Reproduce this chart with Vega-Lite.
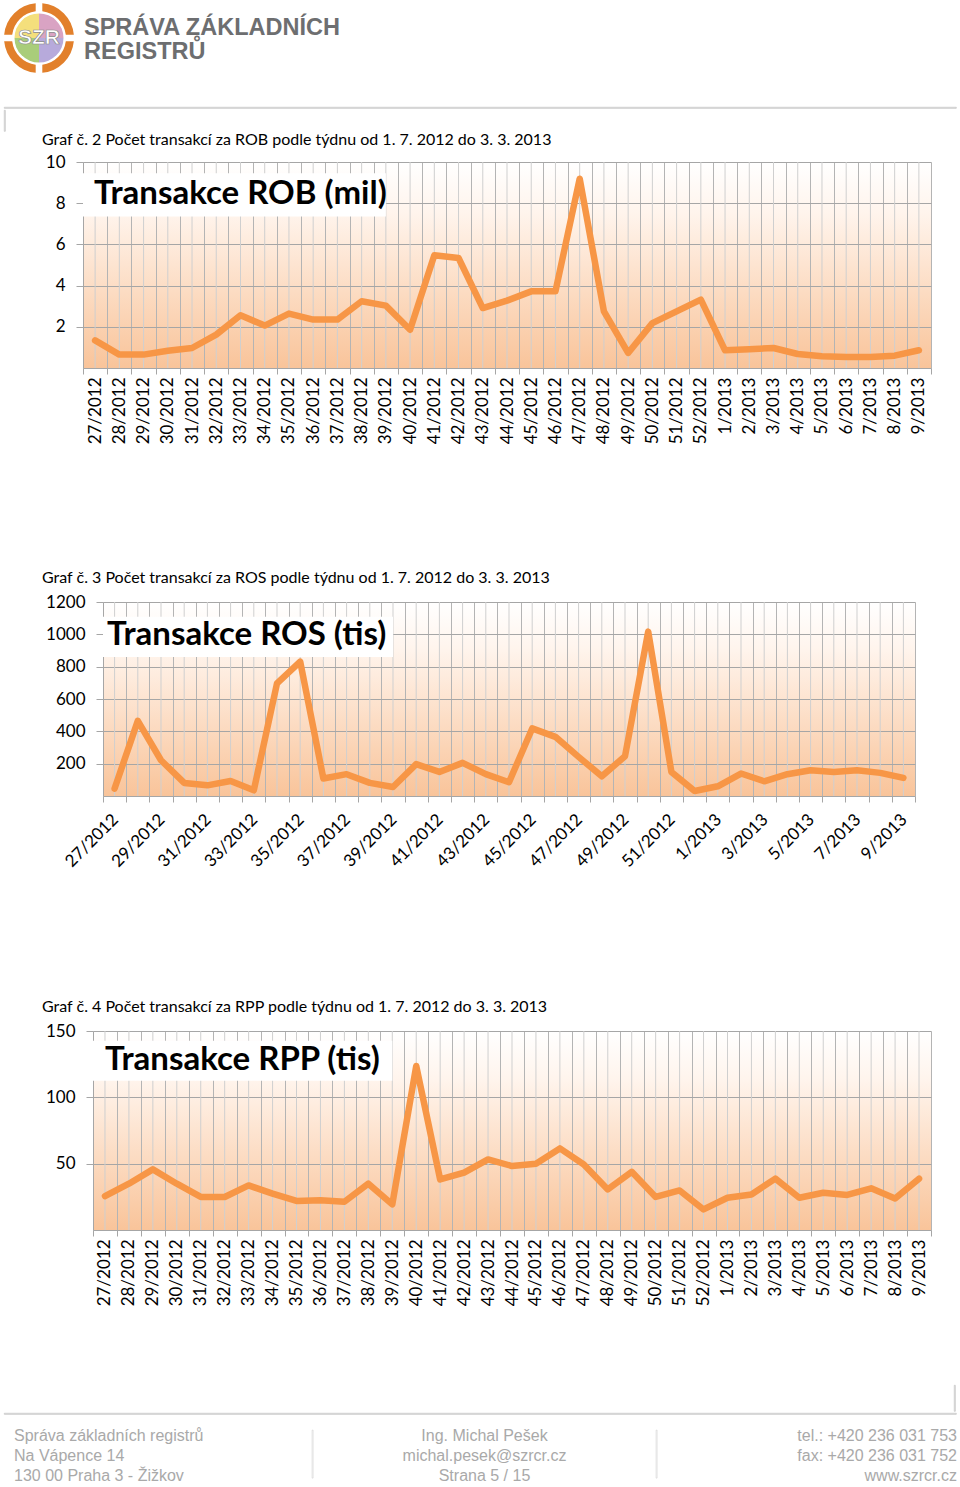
{
  "$schema": "https://vega.github.io/schema/vega-lite/v6.json",
  "background": "white",
  "padding": {"left": 3, "top": 3, "right": 0, "bottom": 0},
  "columns": 1,
  "align": "none",
  "spacing": 0,
  "config": {
    "view": {"stroke": null},
    "font": "Lato",
    "axis": {"labelFont": "Lato", "labelFontSize": 17, "labelColor": "#000000", "tickColor": "#a6a6a6", "domainColor": "#a6a6a6", "gridWidth": 1, "labelOverlap": false}
  },
  "datasets": {
    "logo": [{"q": "1"}, {"q": "2"}, {"q": "3"}, {"q": "4"}],
    "weeks": [
      {"week": "27/2012", "rob": 1.34, "ros": 46, "rpp": 25.6},
      {"week": "28/2012", "rob": 0.65, "ros": 465, "rpp": 34.9},
      {"week": "29/2012", "rob": 0.65, "ros": 221, "rpp": 45.7},
      {"week": "30/2012", "rob": 0.84, "ros": 81, "rpp": 34.9},
      {"week": "31/2012", "rob": 0.97, "ros": 66, "rpp": 24.9},
      {"week": "32/2012", "rob": 1.62, "ros": 93, "rpp": 24.9},
      {"week": "33/2012", "rob": 2.56, "ros": 35, "rpp": 33.6},
      {"week": "34/2012", "rob": 2.06, "ros": 697, "rpp": 27.4},
      {"week": "35/2012", "rob": 2.64, "ros": 831, "rpp": 21.9},
      {"week": "36/2012", "rob": 2.35, "ros": 108, "rpp": 22.4},
      {"week": "37/2012", "rob": 2.35, "ros": 135, "rpp": 21.3},
      {"week": "38/2012", "rob": 3.24, "ros": 81, "rpp": 34.9},
      {"week": "39/2012", "rob": 3.03, "ros": 56, "rpp": 19.3},
      {"week": "40/2012", "rob": 1.86, "ros": 197, "rpp": 123.6},
      {"week": "41/2012", "rob": 5.47, "ros": 149, "rpp": 38.1},
      {"week": "42/2012", "rob": 5.34, "ros": 205, "rpp": 43.2},
      {"week": "43/2012", "rob": 2.91, "ros": 135, "rpp": 53.2},
      {"week": "44/2012", "rob": 3.27, "ros": 85, "rpp": 48.2},
      {"week": "45/2012", "rob": 3.72, "ros": 418, "rpp": 50},
      {"week": "46/2012", "rob": 3.72, "ros": 366, "rpp": 61.5},
      {"week": "47/2012", "rob": 9.19, "ros": 242, "rpp": 49.4},
      {"week": "48/2012", "rob": 2.75, "ros": 122, "rpp": 30.6},
      {"week": "49/2012", "rob": 0.73, "ros": 246, "rpp": 43.9},
      {"week": "50/2012", "rob": 2.18, "ros": 1017, "rpp": 24.9},
      {"week": "51/2012", "rob": 2.75, "ros": 149, "rpp": 29.8},
      {"week": "52/2012", "rob": 3.32, "ros": 31, "rpp": 15.5},
      {"week": "1/2013", "rob": 0.86, "ros": 60, "rpp": 24.3},
      {"week": "2/2013", "rob": 0.91, "ros": 139, "rpp": 26.8},
      {"week": "3/2013", "rob": 0.97, "ros": 91, "rpp": 38.7},
      {"week": "4/2013", "rob": 0.68, "ros": 135, "rpp": 24.3},
      {"week": "5/2013", "rob": 0.57, "ros": 159, "rpp": 28.1},
      {"week": "6/2013", "rob": 0.53, "ros": 149, "rpp": 26.4},
      {"week": "7/2013", "rob": 0.53, "ros": 159, "rpp": 31.4},
      {"week": "8/2013", "rob": 0.6, "ros": 143, "rpp": 23.8},
      {"week": "9/2013", "rob": 0.86, "ros": 112, "rpp": 38.7}
    ]
  },
  "concat": [
    {
      "spacing": 33,
      "vconcat": [
        {
          "spacing": 10,
          "hconcat": [
            {
              "width": 70, "height": 70,
              "data": {"name": "logo"},
              "layer": [
                {"mark": {"type": "arc", "outerRadius": 35, "innerRadius": 27, "padAngle": 0.15, "color": "#e2802b"},
                 "encoding": {"theta": {"aggregate": "count", "type": "quantitative", "stack": true}, "detail": {"field": "q"}}},
                {"mark": {"type": "arc", "outerRadius": 24.5},
                 "encoding": {"theta": {"aggregate": "count", "type": "quantitative", "stack": true},
                   "color": {"field": "q", "type": "nominal", "scale": {"domain": ["1", "2", "3", "4"], "range": ["#d9a3c3", "#b7aadb", "#a9cd7a", "#f4df7c"]}, "legend": null},
                   "order": {"field": "q"}}},
                {"data": {"values": [{}]}, "mark": {"type": "text", "text": "SZR", "font": "Liberation Sans", "fontWeight": "bold", "fontSize": 21, "fill": "#ffffff", "stroke": "#8a8a8a", "strokeWidth": 0.7}}
              ]
            },
            {
              "width": 300, "height": 70,
              "data": {"values": []},
              "mark": "point",
              "title": {"text": "SPRÁVA ZÁKLADNÍCH", "subtitle": "REGISTRŮ", "anchor": "start", "frame": "group", "offset": -60, "font": "Liberation Sans", "fontSize": 23.5, "fontWeight": "bold", "color": "#6d6e70", "lineHeight": 22, "subtitleFont": "Liberation Sans", "subtitleFontSize": 23.5, "subtitleFontWeight": "bold", "subtitleColor": "#6d6e70", "subtitleLineHeight": 22, "subtitlePadding": 0}
            }
          ]
        },
        {
          "spacing": 0,
          "vconcat": [
            {"width": 952, "height": 1, "data": {"values": []}, "mark": "point", "view": {"stroke": "#c4c4c4", "strokeWidth": 0.8}},
            {"width": 1, "height": 21, "data": {"values": []}, "mark": "point", "view": {"stroke": "#c4c4c4", "strokeWidth": 0.8}}
          ]
        }
      ]
    },
    {
      "title": {"text": "Graf č. 2 Počet transakcí za ROB podle týdnu od 1. 7. 2012 do 3. 3. 2013", "anchor": "start", "frame": "bounds", "dx": 38, "offset": 5, "font": "Lato", "fontSize": 16, "fontWeight": "normal", "color": "#000000"},
      "vconcat": [
        {
          "spacing": 0,
          "hconcat": [
            {"width": 1, "height": 1, "data": {"values": []}, "mark": "point"},
            {
              "width": 848, "height": 206,
              "view": {"stroke": null, "fill": {"gradient": "linear", "x1": 0, "y1": 0, "x2": 0, "y2": 1, "stops": [{"offset": 0, "color": "#ffffff"}, {"offset": 0.25, "color": "#fff4ec"}, {"offset": 1, "color": "#f9c49a"}]}},
              "title": {"text": "Transakce ROB (mil)", "anchor": "start", "frame": "group", "dx": 11, "offset": -58, "font": "Lato", "fontSize": 33, "fontWeight": "bold", "color": "#000000"},
              "data": {"name": "weeks"},
              "encoding": {
                "x": {"field": "week", "type": "ordinal", "sort": null,
                  "scale": {"type": "band", "paddingInner": 0, "paddingOuter": 0, "domain": ["27/2012","28/2012","29/2012","30/2012","31/2012","32/2012","33/2012","34/2012","35/2012","36/2012","37/2012","38/2012","39/2012","40/2012","41/2012","42/2012","43/2012","44/2012","45/2012","46/2012","47/2012","48/2012","49/2012","50/2012","51/2012","52/2012","1/2013","2/2013","3/2013","4/2013","5/2013","6/2013","7/2013","8/2013","9/2013"]},
                  "axis": {"title": null, "tickBand": "extent", "grid": true, "gridColor": "#b4b4b4", "tickSize": 6, "labelAngle": -90, "labelPadding": 3, "labelOverlap": false, "minExtent": 202, "maxExtent": 202}}
              },
              "layer": [
                {"mark": {"type": "rule", "color": "#cfcfcf", "strokeWidth": 1}},
                {"data": {"values": [{}]}, "mark": {"type": "rect", "fill": "#ffffff"},
                 "encoding": {"x": {"datum": "27/2012", "type": "ordinal", "bandPosition": 0}, "x2": {"datum": "39/2012"},
                   "y": {"datum": 9.45, "type": "quantitative", "axis": {"title": null, "values": [2, 4, 6, 8, 10], "format": "d", "labelOverlap": false, "grid": true, "gridColor": "#a6a6a6", "tickSize": 7, "labelPadding": 11, "minExtent": 78, "maxExtent": 78}}, "y2": {"datum": 7.36}}},
                {"mark": {"type": "line", "color": "#f79646", "strokeWidth": 6.5, "strokeJoin": "round", "strokeCap": "round"},
                 "encoding": {"y": {"field": "rob", "type": "quantitative", "scale": {"domain": [0, 10], "nice": false},
                   "axis": {"title": null, "values": [2, 4, 6, 8, 10], "format": "d", "labelOverlap": false, "grid": true, "gridColor": "#a6a6a6", "tickSize": 7, "labelPadding": 11, "minExtent": 78, "maxExtent": 78}}}}
              ]
            }
          ]
        }
      ]
    },
    {
      "title": {"text": "Graf č. 3 Počet transakcí za ROS podle týdnu od 1. 7. 2012 do 3. 3. 2013", "anchor": "start", "frame": "bounds", "dx": 38, "offset": 7, "font": "Lato", "fontSize": 16, "fontWeight": "normal", "color": "#000000"},
      "vconcat": [
        {
          "spacing": 0,
          "hconcat": [
            {"width": 1, "height": 1, "data": {"values": []}, "mark": "point"},
            {
              "width": 812, "height": 194,
              "view": {"stroke": null, "fill": {"gradient": "linear", "x1": 0, "y1": 0, "x2": 0, "y2": 1, "stops": [{"offset": 0, "color": "#ffffff"}, {"offset": 0.25, "color": "#fff4ec"}, {"offset": 1, "color": "#f9c49a"}]}},
              "title": {"text": "Transakce ROS (tis)", "anchor": "start", "frame": "group", "dx": 4, "offset": -59, "font": "Lato", "fontSize": 33, "fontWeight": "bold", "color": "#000000"},
              "data": {"name": "weeks"},
              "encoding": {
                "x": {"field": "week", "type": "ordinal", "sort": null,
                  "scale": {"type": "band", "paddingInner": 0, "paddingOuter": 0, "domain": ["27/2012","28/2012","29/2012","30/2012","31/2012","32/2012","33/2012","34/2012","35/2012","36/2012","37/2012","38/2012","39/2012","40/2012","41/2012","42/2012","43/2012","44/2012","45/2012","46/2012","47/2012","48/2012","49/2012","50/2012","51/2012","52/2012","1/2013","2/2013","3/2013","4/2013","5/2013","6/2013","7/2013","8/2013","9/2013"]},
                  "axis": {"title": null, "tickBand": "extent", "grid": true, "gridColor": "#b4b4b4", "tickSize": 6, "labelAngle": -45, "labelPadding": 9, "labelOffset": -5, "labelOverlap": false, "minExtent": 203, "maxExtent": 203,
                    "labelExpr": "indexof(['27/2012','29/2012','31/2012','33/2012','35/2012','37/2012','39/2012','41/2012','43/2012','45/2012','47/2012','49/2012','51/2012','1/2013','3/2013','5/2013','7/2013','9/2013'], datum.value) >= 0 ? datum.label : ''"}}
              },
              "layer": [
                {"mark": {"type": "rule", "color": "#cfcfcf", "strokeWidth": 1}},
                {"data": {"values": [{}]}, "mark": {"type": "rect", "fill": "#ffffff"},
                 "encoding": {"x": {"datum": "27/2012", "type": "ordinal", "bandPosition": 0}, "x2": {"datum": "39/2012"},
                   "y": {"datum": 1109, "type": "quantitative", "axis": {"title": null, "values": [200, 400, 600, 800, 1000, 1200], "format": "d", "labelOverlap": false, "grid": true, "gridColor": "#a6a6a6", "tickSize": 7, "labelPadding": 11, "minExtent": 98, "maxExtent": 98}}, "y2": {"datum": 860}}},
                {"mark": {"type": "line", "color": "#f79646", "strokeWidth": 6.5, "strokeJoin": "round", "strokeCap": "round"},
                 "encoding": {"y": {"field": "ros", "type": "quantitative", "scale": {"domain": [0, 1200], "nice": false},
                   "axis": {"title": null, "values": [200, 400, 600, 800, 1000, 1200], "format": "d", "labelOverlap": false, "grid": true, "gridColor": "#a6a6a6", "tickSize": 7, "labelPadding": 11, "minExtent": 98, "maxExtent": 98}}}}
              ]
            }
          ]
        }
      ]
    },
    {
      "title": {"text": "Graf č. 4 Počet transakcí za RPP podle týdnu od 1. 7. 2012 do 3. 3. 2013", "anchor": "start", "frame": "bounds", "dx": 38, "offset": 7, "font": "Lato", "fontSize": 16, "fontWeight": "normal", "color": "#000000"},
      "vconcat": [
        {
          "spacing": 0,
          "hconcat": [
            {"width": 1, "height": 1, "data": {"values": []}, "mark": "point"},
            {
              "width": 838, "height": 199,
              "view": {"stroke": null, "fill": {"gradient": "linear", "x1": 0, "y1": 0, "x2": 0, "y2": 1, "stops": [{"offset": 0, "color": "#ffffff"}, {"offset": 0.25, "color": "#fff4ec"}, {"offset": 1, "color": "#f9c49a"}]}},
              "title": {"text": "Transakce RPP (tis)", "anchor": "start", "frame": "group", "dx": 12, "offset": -55, "font": "Lato", "fontSize": 33, "fontWeight": "bold", "color": "#000000"},
              "data": {"name": "weeks"},
              "encoding": {
                "x": {"field": "week", "type": "ordinal", "sort": null,
                  "scale": {"type": "band", "paddingInner": 0, "paddingOuter": 0, "domain": ["27/2012","28/2012","29/2012","30/2012","31/2012","32/2012","33/2012","34/2012","35/2012","36/2012","37/2012","38/2012","39/2012","40/2012","41/2012","42/2012","43/2012","44/2012","45/2012","46/2012","47/2012","48/2012","49/2012","50/2012","51/2012","52/2012","1/2013","2/2013","3/2013","4/2013","5/2013","6/2013","7/2013","8/2013","9/2013"]},
                  "axis": {"title": null, "tickBand": "extent", "grid": true, "gridColor": "#b4b4b4", "tickSize": 6, "labelAngle": -90, "labelPadding": 3, "labelOverlap": false, "minExtent": 154, "maxExtent": 154}}
              },
              "layer": [
                {"mark": {"type": "rule", "color": "#cfcfcf", "strokeWidth": 1}},
                {"data": {"values": [{}]}, "mark": {"type": "rect", "fill": "#ffffff"},
                 "encoding": {"x": {"datum": "27/2012", "type": "ordinal", "bandPosition": 0}, "x2": {"datum": "39/2012"},
                   "y": {"datum": 142.7, "type": "quantitative", "axis": {"title": null, "values": [50, 100, 150], "format": "d", "labelOverlap": false, "grid": true, "gridColor": "#a6a6a6", "tickSize": 7, "labelPadding": 11, "minExtent": 88, "maxExtent": 88}}, "y2": {"datum": 112.5}}},
                {"mark": {"type": "line", "color": "#f79646", "strokeWidth": 6.5, "strokeJoin": "round", "strokeCap": "round"},
                 "encoding": {"y": {"field": "rpp", "type": "quantitative", "scale": {"domain": [0, 150], "nice": false},
                   "axis": {"title": null, "values": [50, 100, 150], "format": "d", "labelOverlap": false, "grid": true, "gridColor": "#a6a6a6", "tickSize": 7, "labelPadding": 11, "minExtent": 88, "maxExtent": 88}}}}
              ]
            }
          ]
        }
      ]
    },
    {
      "spacing": 0,
      "vconcat": [
        {
          "spacing": 0,
          "hconcat": [
            {"width": 949, "height": 26, "data": {"values": []}, "mark": "point"},
            {"width": 1, "height": 26, "data": {"values": []}, "mark": "point", "view": {"stroke": "#c4c4c4", "strokeWidth": 0.8}}
          ]
        },
        {
          "spacing": 13,
          "vconcat": [
            {"width": 952, "height": 1, "data": {"values": []}, "mark": "point", "view": {"stroke": "#c4c4c4", "strokeWidth": 0.8}},
            {
              "spacing": 0,
              "hconcat": [
                {"width": 307, "height": 48, "data": {"values": []}, "mark": "point",
                 "title": {"text": ["Správa základních registrů", "Na Vápence 14", "130 00 Praha 3 - Žižkov"], "anchor": "start", "frame": "group", "dx": 10, "offset": -54, "font": "Liberation Sans", "fontSize": 16, "fontWeight": "normal", "color": "#a9a9a9", "lineHeight": 20}},
                {"width": 1, "height": 48, "data": {"values": []}, "mark": "point", "view": {"stroke": "#d0d0d0", "strokeWidth": 0.6}},
                {"width": 341, "height": 48, "data": {"values": []}, "mark": "point",
                 "title": {"text": ["Ing. Michal Pešek", "michal.pesek@szrcr.cz", "Strana 5 / 15"], "anchor": "middle", "frame": "group", "offset": -54, "font": "Liberation Sans", "fontSize": 16, "fontWeight": "normal", "color": "#a9a9a9", "lineHeight": 20}},
                {"width": 1, "height": 48, "data": {"values": []}, "mark": "point", "view": {"stroke": "#d0d0d0", "strokeWidth": 0.6}},
                {"width": 299, "height": 48, "data": {"values": []}, "mark": "point",
                 "title": {"text": ["tel.: +420 236 031 753", "fax: +420 236 031 752", "www.szrcr.cz"], "anchor": "end", "frame": "group", "offset": -54, "font": "Liberation Sans", "fontSize": 16, "fontWeight": "normal", "color": "#a9a9a9", "lineHeight": 20}}
              ]
            }
          ]
        }
      ]
    }
  ]
}
